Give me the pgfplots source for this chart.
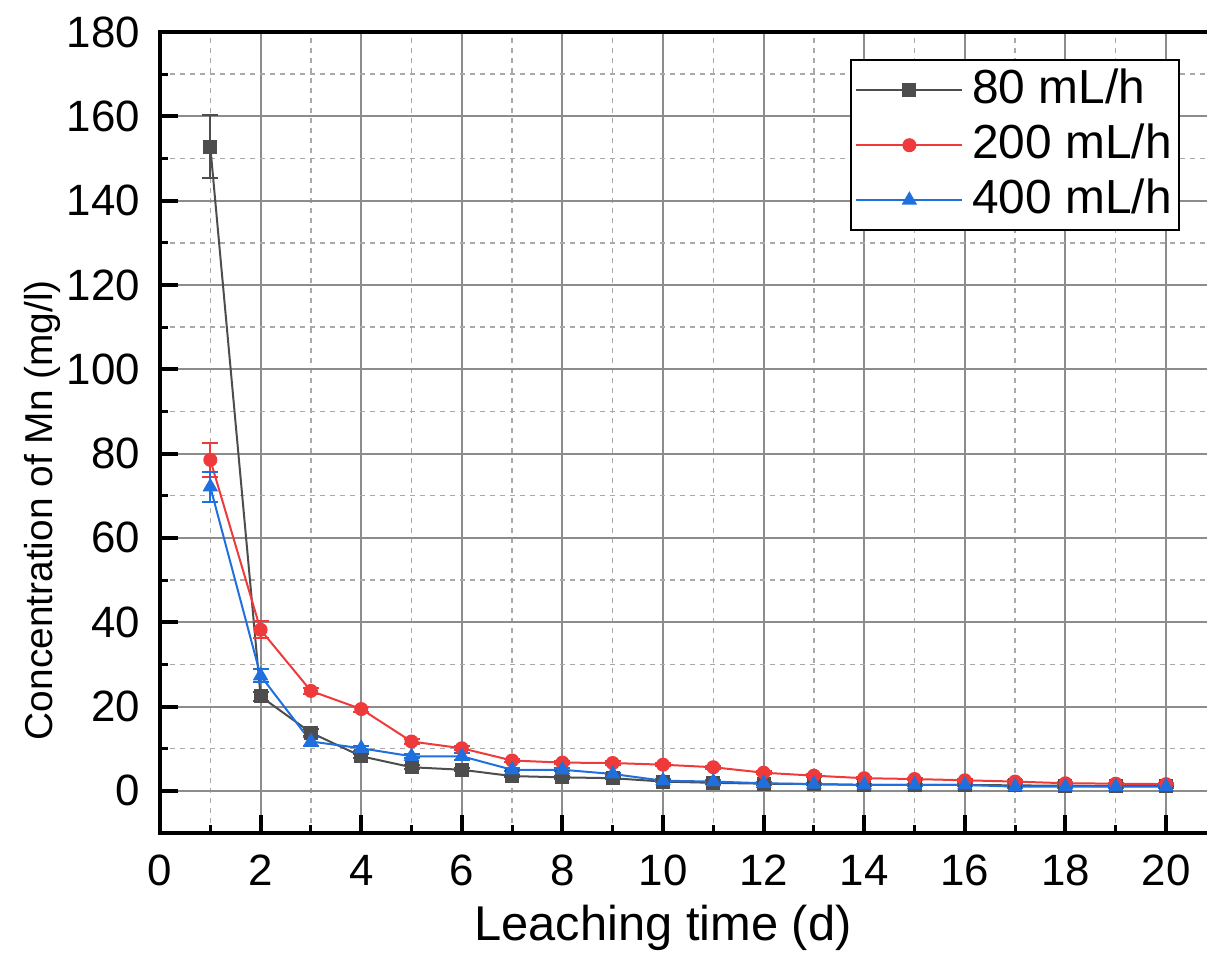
\documentclass[border=0pt]{standalone}
\usepackage{fontspec}
\setmainfont{Liberation Sans}
\usepackage{pgfplots}
\pgfplotsset{compat=1.18}
\definecolor{sblack}{RGB}{77,77,77}
\definecolor{sred}{RGB}{238,58,58}
\definecolor{sblue}{RGB}{31,111,222}
\definecolor{gridc}{RGB}{140,140,140}
\begin{document}
\begin{tikzpicture}
\begin{axis}[
  at={(0,0)}, anchor=south west,
  scale only axis,
  width=1051.3bp, height=801bp,
  xmin=0, xmax=20.9, ymin=-10, ymax=180,
  xtick={0,2,...,20}, ytick={0,20,...,180},
  minor xtick={1,3,...,19}, minor ytick={10,30,...,170},
  grid=both,
  major grid style={gridc, line width=2bp},
  minor grid style={gridc!75, line width=1.5bp, dash pattern=on 5bp off 5bp},
  tick align=inside,
  xtick pos=bottom, ytick pos=left,
  major tick length=18bp, minor tick length=8bp,
  every major tick/.style={black, line width=4bp},
  every minor tick/.style={black, line width=3bp},
  axis line style={black, line width=4bp},
  /pgf/number format/assume math mode=true,
  ticklabel style={font=\fontsize{44}{44}\selectfont, inner sep=0pt},
  yticklabel shift=20bp,
  xticklabel shift=22bp,
  xlabel={Leaching time (d)},
  xlabel style={font=\fontsize{49}{49}\selectfont, at={(axis description cs:0.4785,0)}, anchor=base, yshift=-107bp},
  ylabel={Concentration of Mn (mg/l)},
  ylabel style={font=\fontsize{39}{39}\selectfont, at={(axis description cs:-0.1027,0.403)}, anchor=base},
  legend style={at={(axis description cs:0.970,0.966)}, anchor=north east, draw=black, line width=2bp,
    font=\fontsize{48}{48}\selectfont, inner sep=4bp, row sep=3bp, column sep=6bp,
    nodes={inner sep=3bp, text height=36bp, text depth=10bp}},
  legend cell align=left,
  legend image code/.code={\draw[#1, mark repeat=2, mark phase=2] plot coordinates {(0bp,0bp) (53bp,0bp) (106bp,0bp)};},
  error bars/error bar style={line width=2bp},
  error bars/error mark options={rotate=90, mark size=8bp, line width=2bp},
]
\addplot[color=sblack, line width=2bp, mark=square*, mark size=6bp, mark options={solid},
  error bars/.cd, y dir=both, y explicit] table[x=x, y=y, y error=e] {
x y e
1 152.8 7.5
2 22.4 1.0
3 13.8 0.8
4 8.2 0.5
5 5.6 0.5
6 5.0 0.4
7 3.5 0.3
8 3.2 0.3
9 3.0 0.3
10 2.2 0.2
11 1.9 0.2
12 1.7 0.2
13 1.6 0.2
14 1.4 0.2
15 1.4 0.2
16 1.4 0.2
17 1.3 0.2
18 1.2 0.2
19 1.1 0.2
20 1.1 0.2
};
\addlegendentry{80 mL/h}
\addplot[color=sred, line width=2bp, mark=*, mark size=6bp, mark options={solid},
  error bars/.cd, y dir=both, y explicit] table[x=x, y=y, y error=e] {
x y e
1 78.5 4.0
2 38.2 2.0
3 23.7 0.8
4 19.4 0.6
5 11.7 0.5
6 10.1 0.5
7 7.2 0.4
8 6.7 0.4
9 6.6 0.4
10 6.2 0.3
11 5.6 0.3
12 4.3 0.3
13 3.6 0.3
14 3.0 0.3
15 2.8 0.3
16 2.5 0.3
17 2.2 0.3
18 1.8 0.2
19 1.7 0.2
20 1.6 0.2
};
\addlegendentry{200 mL/h}
\addplot[color=sblue, line width=2bp, mark=triangle*, mark size=7bp, mark options={solid},
  error bars/.cd, y dir=both, y explicit] table[x=x, y=y, y error=e] {
x y e
1 72.1 3.5
2 27.3 1.5
3 11.7 1.0
4 10.1 0.6
5 8.2 0.5
6 8.2 0.8
7 5.0 0.4
8 5.0 0.4
9 4.0 0.3
10 2.4 0.3
11 2.2 0.3
12 1.8 0.3
13 1.6 0.3
14 1.4 0.3
15 1.4 0.3
16 1.4 0.3
17 1.0 0.3
18 1.0 0.3
19 1.0 0.3
20 1.0 0.3
};
\addlegendentry{400 mL/h}
\end{axis}
\pgfresetboundingbox
\path[use as bounding box] (-160bp,-127bp) rectangle (1047bp,833bp);
\end{tikzpicture}
\end{document}
